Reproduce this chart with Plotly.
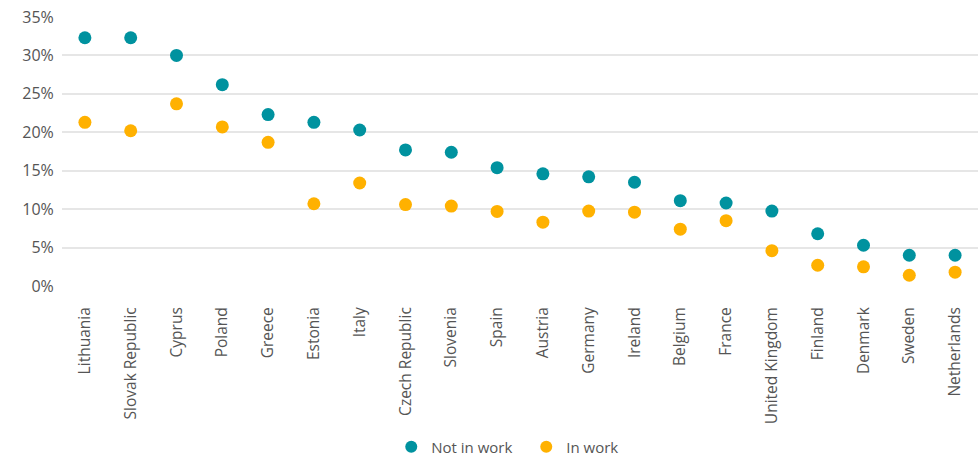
import plotly.graph_objects as go

countries = [
    "Lithuania", "Slovak Republic", "Cyprus", "Poland", "Greece", "Estonia",
    "Italy", "Czech Republic", "Slovenia", "Spain", "Austria", "Germany",
    "Ireland", "Belgium", "France", "United Kingdom", "Finland", "Denmark",
    "Sweden", "Netherlands",
]
not_in_work = [32.3, 32.3, 30.0, 26.2, 22.3, 21.3, 20.3, 17.7, 17.4, 15.4,
               14.6, 14.2, 13.5, 11.1, 10.8, 9.75, 6.8, 5.3, 4.0, 4.0]
in_work = [21.3, 20.2, 23.7, 20.7, 18.7, 10.7, 13.4, 10.6, 10.4, 9.7,
           8.3, 9.75, 9.6, 7.4, 8.5, 4.6, 2.7, 2.5, 1.4, 1.8]
y_ticks = [0, 5, 10, 15, 20, 25, 30, 35]

TEAL = "#00929f"
AMBER = "#ffb100"
TEXT = "#555555"
FONT = "Open Sans, sans-serif"

fig = go.Figure()
fig.add_trace(go.Scatter(
    x=countries, y=not_in_work, mode="markers", name="Not in work",
    marker=dict(color=TEAL, size=13),
))
fig.add_trace(go.Scatter(
    x=countries, y=in_work, mode="markers", name="In work",
    marker=dict(color=AMBER, size=13),
))

fig.update_layout(
    width=980, height=457,
    margin=dict(l=62, r=2, t=17, b=171),
    paper_bgcolor="white", plot_bgcolor="white",
    font=dict(family=FONT, size=15, color=TEXT),
    showlegend=True,
    legend=dict(
        orientation="h", xref="container", yref="container",
        x=0.537, xanchor="center", y=0.022, yanchor="middle",
        font=dict(size=15, color=TEXT), itemsizing="constant",
        entrywidth=90, entrywidthmode="pixels",
    ),
    xaxis=dict(
        type="category", tickangle=-90, showgrid=False, zeroline=False,
        showline=False, ticks="outside", ticklen=14,
        tickcolor="rgba(0,0,0,0)", automargin=False,
        tickfont=dict(size=15.5, color=TEXT),
        range=[-0.5, len(countries) - 0.5],
    ),
    yaxis=dict(
        range=[0, 35], tickvals=y_ticks,
        ticktext=[f"{v}%" for v in y_ticks],
        showgrid=True, gridcolor="#e6e6e6", gridwidth=1.5,
        zeroline=False, showline=False, ticks="outside", ticklen=4,
        tickcolor="rgba(0,0,0,0)", automargin=False,
        tickfont=dict(size=16, color=TEXT),
    ),
)
fig.update_traces(cliponaxis=False)

fig.write_html("out.html")
